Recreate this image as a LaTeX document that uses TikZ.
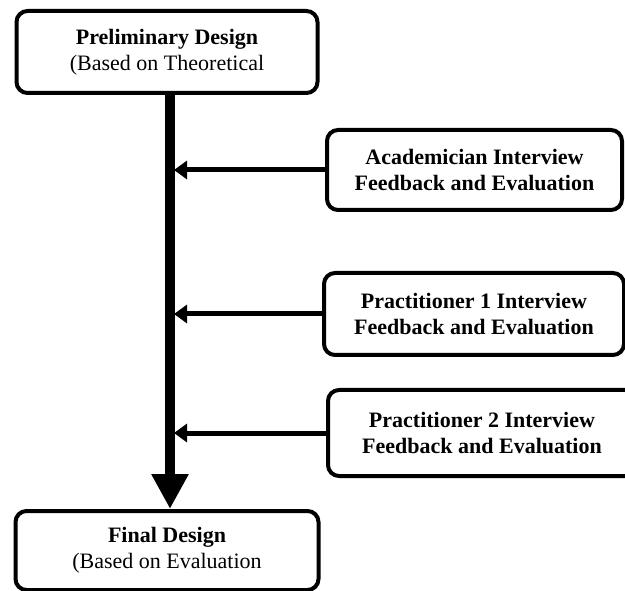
\documentclass[tikz,border=0pt]{standalone}
\usepackage{fontspec}
\setmainfont{Liberation Serif}
\usetikzlibrary{arrows.meta}

\begin{document}
\begin{tikzpicture}[x=1pt, y=-1pt,
  stage/.style={draw, line width=4pt, rounded corners=11pt, align=center,
    font=\fontsize{22}{26}\selectfont},
  feed/.style={line width=5pt, -{Triangle[length=13pt,width=18pt]}, shorten >=4pt}]
\useasboundingbox (0,0) rectangle (625,591);
\clip (0,0) rectangle (625,591);

\node[stage, minimum width=301pt, minimum height=82pt] (prelim) at (167,52) {\textbf{Preliminary Design}\\(Based on Theoretical};
\node[stage, minimum width=303pt, minimum height=79pt] (final) at (167,550.5) {\textbf{Final Design}\\(Based on Evaluation};

\node[stage, minimum width=295pt, minimum height=80pt] (acad) at (474.5,170) {\textbf{Academician Interview}\\\textbf{Feedback and Evaluation}};
\node[stage, minimum width=300pt, minimum height=82pt] (prac1) at (474,314) {\textbf{Practitioner 1 Interview}\\\textbf{Feedback and Evaluation}};
\node[stage, minimum width=308pt, minimum height=86pt] (prac2) at (482,433) {\textbf{Practitioner 2 Interview}\\\textbf{Feedback and Evaluation}};

\coordinate (spine) at (170,0);

\draw[line width=10pt, -{Triangle[length=35pt,width=35pt]}] (prelim.south -| spine) -- (final.north -| spine);

\draw[feed] (acad.west) -- (acad.west -| spine);
\draw[feed] (prac1.west) -- (prac1.west -| spine);
\draw[feed] (prac2.west) -- (prac2.west -| spine);

\end{tikzpicture}
\end{document}
